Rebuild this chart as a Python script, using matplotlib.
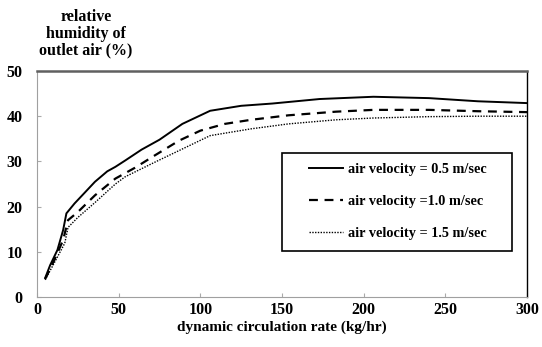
import numpy as np
import matplotlib.pyplot as plt
from matplotlib.patches import Rectangle

# 读取的曲线数据
x_05 = [5, 8, 12.5, 16, 18, 23, 29, 35.5, 43, 48, 54, 64, 75, 89, 106, 125, 144, 173, 206, 240, 270, 300]
y_05 = [4.2, 7, 10.4, 14.8, 18.5, 20.7, 23, 25.5, 27.8, 28.8, 30.2, 32.6, 34.8, 38.3, 41.2, 42.3, 42.8, 43.8, 44.3, 44.0, 43.3, 42.9]
x_10 = [5, 10.5, 16, 19, 25, 35.5, 48, 60, 72, 87, 100, 115, 131, 154, 183, 206, 240, 270, 300]
y_10 = [4.0, 8.1, 12.6, 17, 18.8, 22.5, 26.2, 28.6, 31.3, 34.6, 36.8, 38.3, 39.2, 40.2, 41.0, 41.4, 41.4, 41.1, 40.9]
x_15 = [5, 10.5, 17, 19, 25, 35.5, 48, 54, 63, 72, 87, 106, 131, 154, 183, 206, 240, 270, 300]
y_15 = [3.8, 7.5, 11.9, 15.4, 17.6, 20.9, 25, 26.6, 28.2, 29.8, 32.4, 35.7, 37.2, 38.3, 39.2, 39.6, 39.9, 40.0, 40.0]
labels = ['air velocity = 0.5 m/sec', 'air velocity =1.0 m/sec', 'air velocity = 1.5 m/sec']
xticks = [0, 50, 100, 150, 200, 250, 300]
yticks = [0, 10, 20, 30, 40, 50]

plt.rcParams['font.family'] = ['Liberation Serif', 'DejaVu Serif']
plt.rcParams['font.weight'] = 'bold'

fig = plt.figure(figsize=(5.42, 3.47), dpi=100)
ax = fig.add_axes([37 / 542, 1 - 297 / 347, 490 / 542, 226 / 347])

ax.plot(x_05, y_05, color='black', linewidth=1.4, linestyle='-', label=labels[0])
ax.plot(x_10, y_10, color='black', linewidth=1.6, linestyle=(0, (4, 3)), label=labels[1])
ax.plot(x_15, y_15, color='black', linewidth=1.0, linestyle=(0, (1, 1)), label=labels[2])

ax.set_xlim(0, 300)
ax.set_ylim(0, 50)
ax.set_xticks(xticks)
ax.set_yticks(yticks)
ax.tick_params(axis='both', direction='in', length=3, color='#aaaaaa', labelsize=11.5)
ax.tick_params(axis='x', pad=3.5)
ax.tick_params(axis='y', pad=10.5)
for t in ax.get_xticklabels() + ax.get_yticklabels():
    t.set_fontweight('bold')

ax.spines['top'].set_color('#606060')
ax.spines['top'].set_linewidth(1.8)
ax.spines['left'].set_color('#a0a0a0')
ax.spines['bottom'].set_color('#a0a0a0')
ax.spines['right'].set_color('black')
ax.spines['right'].set_linewidth(1.0)

# 图例：无边框，外框单独画
leg = ax.legend(loc='upper left', bbox_to_anchor=((309 - 37) / 490, (297 - 163) / 226),
                frameon=False, borderpad=0, borderaxespad=0, handlelength=2.4,
                handletextpad=0.3, labelspacing=1.32, prop={'size': 10.3, 'weight': 'bold'})
ax.add_patch(Rectangle((0.5, 0.2035), 0.469, 0.4335, transform=ax.transAxes,
                       fill=False, edgecolor='black', linewidth=1.2, zorder=5))

ax.set_xlabel('dynamic circulation rate (kg/hr)', fontsize=11, fontweight='bold', labelpad=2)
fig.text(86 / 542, 1 - 34 / 347, 'relative\nhumidity of\noutlet air (%)', ha='center', va='center',
         fontsize=11.5, fontweight='bold', linespacing=1.05)

plt.savefig('out.png', dpi=100)
